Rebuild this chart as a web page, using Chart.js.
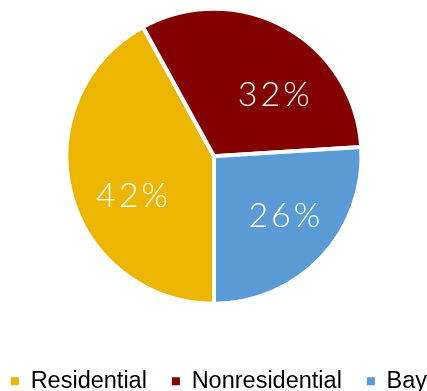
<!DOCTYPE html>
<html lang="en">
  <head>
    <meta charset="UTF-8" />
    <script src="https://cdn.jsdelivr.net/npm/chart.js"></script>
    <title>uso do solo</title>
    <style>
      html, body { margin: 0; padding: 0; background: #fff; overflow: hidden; }
      body { width: 427px; height: 391px; position: relative; }
      #wrap { position: absolute; left: -21px; top: -32px; }
    </style>
  </head>
  <body>
    <div id="wrap">
      <canvas id="graficoPizza" width="470" height="435"></canvas>
    </div>
  </body>
</html>

<script>
  const categorias = ["Residential", "Nonresidential", "Bay"];
  const percentuais = [42, 32, 26];
  const cores = ["#ECB500", "#830000", "#5B9BD5"];

  // ajuste fino da posicao dos rotulos (graus em torno do meio da fatia, fracao do raio)
  const rotuloGiro = [-11, 15, -3];
  const rotuloRaio = [0.62, 0.58, 0.62];

  const rotulosPlugin = {
    id: "rotulos",
    afterLayout(chart) {
      // legenda um pouco mais para a direita
      chart.legend.left += 5;
      chart.legend.right += 5;
    },
    afterDatasetsDraw(chart) {
      const ctx = chart.ctx;
      const meta = chart.getDatasetMeta(0);
      ctx.save();
      ctx.fillStyle = "#fff";
      ctx.font = "300 34px Lato";
      ctx.letterSpacing = "3px";
      ctx.textAlign = "center";
      ctx.textBaseline = "middle";
      meta.data.forEach(function (arc, i) {
        const p = arc.getProps(["x", "y", "startAngle", "endAngle", "outerRadius"], true);
        const meio = (p.startAngle + p.endAngle) / 2 + rotuloGiro[i] * Math.PI / 180;
        const r = p.outerRadius * rotuloRaio[i];
        const x = p.x + Math.cos(meio) * r + 2;
        const y = p.y + Math.sin(meio) * r + 1;
        ctx.fillText(percentuais[i] + "%", x, y);
      });
      ctx.restore();
    }
  };

  const config = {
    type: "pie",
    data: {
      labels: categorias,
      datasets: [
        {
          data: percentuais,
          backgroundColor: cores,
          borderColor: "#fff",
          borderWidth: 4,
          radius: 147.5
        }
      ]
    },
    options: {
      responsive: false,
      animation: false,
      rotation: 180,
      layout: { padding: 0 },
      plugins: {
        tooltip: { enabled: false },
        legend: {
          position: "bottom",
          labels: {
            boxWidth: 8,
            boxHeight: 8,
            padding: 25,
            color: "#000",
            font: { family: "'Liberation Sans', Arial, sans-serif", size: 23.5 },
            generateLabels(chart) {
              const itens = Chart.overrides.pie.plugins.legend.labels.generateLabels(chart);
              return itens.map(function (it) {
                it.lineWidth = 0;
                it.strokeStyle = it.fillStyle;
                return it;
              });
            }
          }
        }
      }
    },
    plugins: [rotulosPlugin]
  };

  new Chart(document.getElementById("graficoPizza"), config);
</script>
